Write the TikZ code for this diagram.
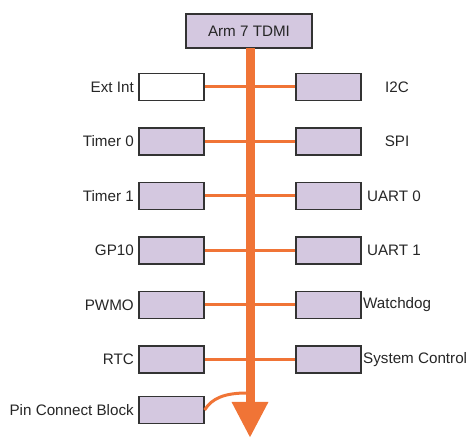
\documentclass[tikz,border=0pt]{standalone}
\usepackage{fontspec}
\setmainfont{Liberation Sans}
\usetikzlibrary{arrows.meta}
\definecolor{lav}{HTML}{D4C8E0}
\definecolor{busor}{HTML}{F07436}
\definecolor{edge}{HTML}{333333}
\begin{document}
\begin{tikzpicture}[x=1pt,y=-1pt,
  blk/.style={draw=edge,line width=1.2pt,fill=lav,minimum width=65pt,minimum height=27pt,inner sep=0pt},
  lbl/.style={font=\fontsize{15.2}{17}\selectfont,text=black!85,inner sep=0pt},
  link/.style={draw=busor,line width=3pt},
  bus/.style={draw=busor,line width=9pt,-{Triangle[width=34pt,length=36pt]}}]
\useasboundingbox (0,0) rectangle (472,438);
\node[blk,minimum width=126pt,minimum height=34pt] (arm) at (249,31) {};
\node[lbl] at (arm.center) {Arm 7 TDMI};
\coordinate (tip) at (250,438);
\draw[bus] (250,48) -- (tip);
% left column
\foreach \n/\t/\y in {l1/Ext Int/87, l2/Timer 0/141.5, l3/Timer 1/196, l4/GP10/250.5, l5/PWMO/305, l6/RTC/359.5, l7/Pin Connect Block/410}{
  \node[blk] (\n) at (171.5,\y) {};
  \node[lbl,anchor=east] at (134,\y) {\t};
}
\node[blk,fill=white] at (l1.center) {};
% right column
\foreach \n/\y in {r1/87, r2/141.5, r3/196, r4/250.5, r5/305, r6/359.5}{
  \node[blk] (\n) at (328.5,\y) {};
}
\node[lbl] at (397,87) {I2C};
\node[lbl] at (397,141.5) {SPI};
\node[lbl] at (394,196) {UART 0};
\node[lbl] at (394,250.5) {UART 1};
\node[lbl,anchor=west] at (363,305) {Watchdog};
\node[lbl,anchor=west] at (363,359.5) {System Control};
% links
\foreach \a/\b in {l1/r1,l2/r2,l3/r3,l4/r4,l5/r5,l6/r6}{
  \draw[link] (\a.east) -- (\b.west);
}
\coordinate (pj) at (247,393);
\draw[link] (l7.east) .. controls (212,398) and (225,393) .. (pj);
\end{tikzpicture}
\end{document}
